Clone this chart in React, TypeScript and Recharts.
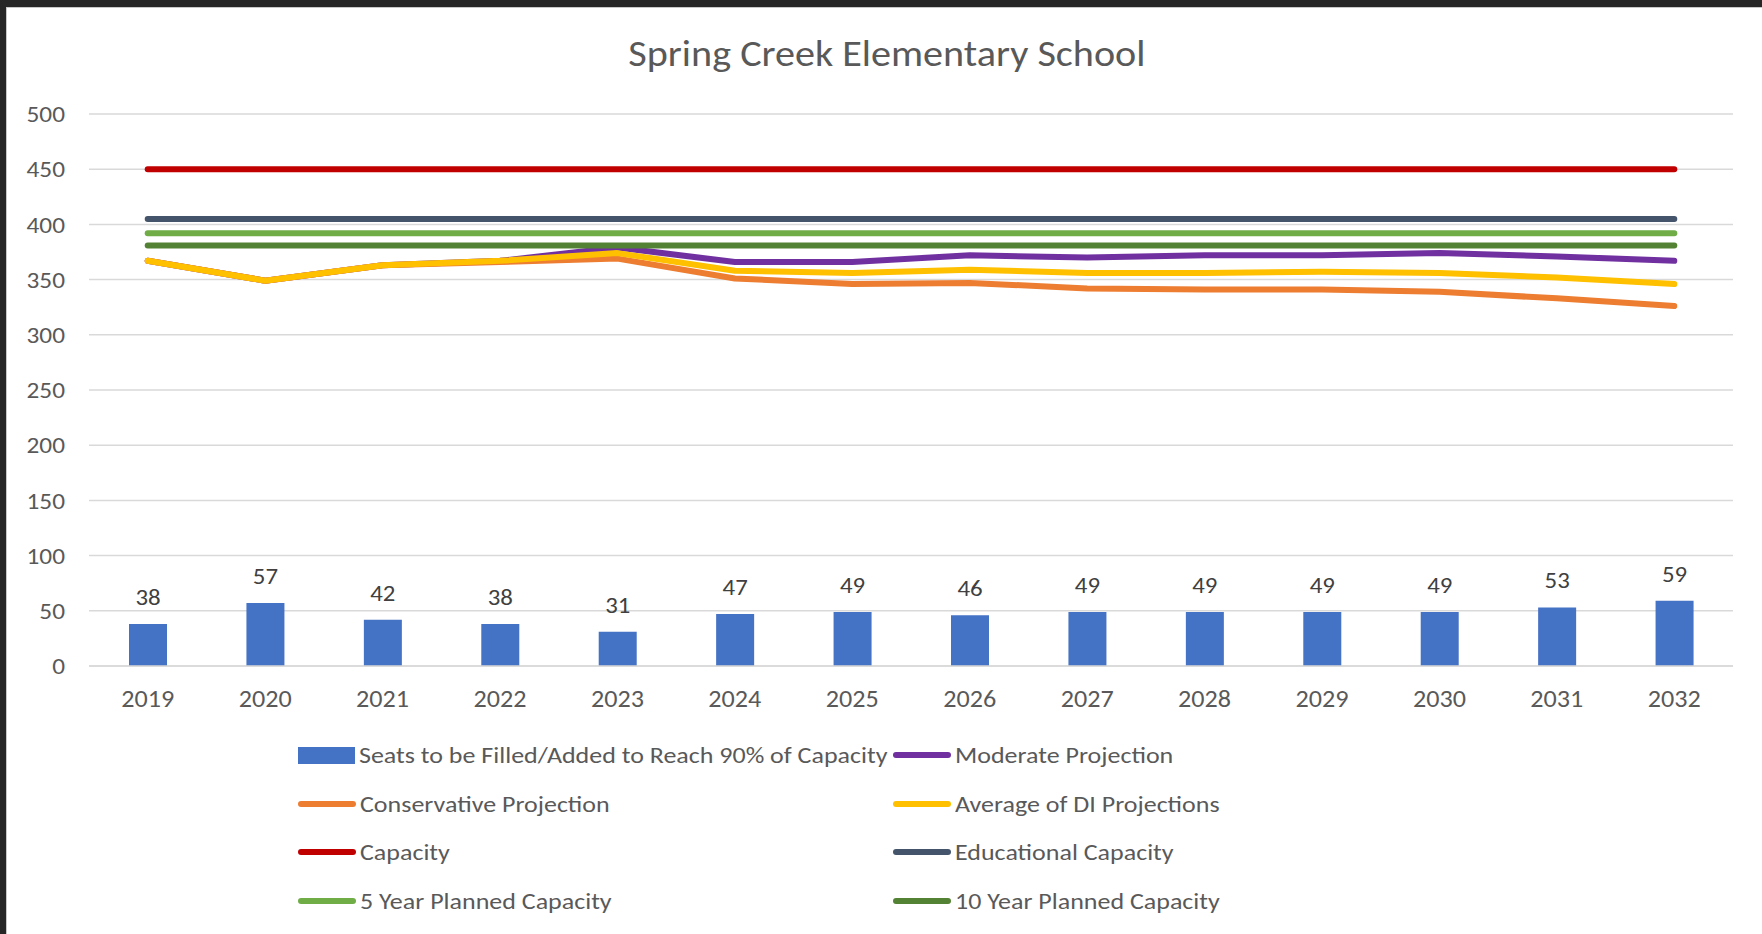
import { ComposedChart, Bar, Line, XAxis, YAxis, CartesianGrid, LabelList } from "recharts";

const years = ["2019", "2020", "2021", "2022", "2023", "2024", "2025", "2026", "2027", "2028", "2029", "2030", "2031", "2032"];
const seats = [38, 57, 42, 38, 31, 47, 49, 46, 49, 49, 49, 49, 53, 59];
const moderate = [367, 349, 363, 367, 379, 366, 366, 372, 370, 372, 372, 374, 371, 367];
const conservative = [367, 349, 363, 366, 369, 351, 346, 347, 342, 341, 341, 339, 333, 326];
const average = [367, 349, 363, 367, 374, 358, 356, 359, 356, 356, 357, 356, 352, 346];
const capacity = [450, 450, 450, 450, 450, 450, 450, 450, 450, 450, 450, 450, 450, 450];
const educational = [405, 405, 405, 405, 405, 405, 405, 405, 405, 405, 405, 405, 405, 405];
const fiveYear = [392, 392, 392, 392, 392, 392, 392, 392, 392, 392, 392, 392, 392, 392];
const tenYear = [381, 381, 381, 381, 381, 381, 381, 381, 381, 381, 381, 381, 381, 381];
const yTicks = [0, 50, 100, 150, 200, 250, 300, 350, 400, 450, 500];

const data = years.map((year, i) => ({
  year,
  seats: seats[i],
  moderate: moderate[i],
  conservative: conservative[i],
  average: average[i],
  capacity: capacity[i],
  educational: educational[i],
  fiveYear: fiveYear[i],
  tenYear: tenYear[i],
}));

const lines = [
  { key: "moderate", name: "Moderate Projection", color: "#7030A0" },
  { key: "conservative", name: "Conservative Projection", color: "#ED7D31" },
  { key: "average", name: "Average of DI Projections", color: "#FFC000" },
  { key: "capacity", name: "Capacity", color: "#C00000" },
  { key: "educational", name: "Educational Capacity", color: "#44546A" },
  { key: "fiveYear", name: "5 Year Planned Capacity", color: "#70AD47" },
  { key: "tenYear", name: "10 Year Planned Capacity", color: "#548235" },
];

const legendItems = [
  { name: "Seats to be Filled/Added to Reach 90% of Capacity", color: "#4472C4", bar: true },
  ...lines.map((l) => ({ ...l, bar: false })),
];

const font = "Carlito, Calibri, Lato, sans-serif";
const grey = "#595959";

// tick text, stretched horizontally around its anchor (source text is wider than Lato)
function StretchTick(props: any) {
  const { x, y, payload, textAnchor, shift, fontSize, stretch } = props;
  return (
    <g transform={`translate(${x},${y}) scale(${stretch},1)`}>
      <text x={0} y={0} dy={shift} textAnchor={textAnchor} fill={grey} fontSize={fontSize} fontFamily={font}>
        {payload.value}
      </text>
    </g>
  );
}

function BarValue(props: any) {
  const { x, y, width, value } = props;
  const cx = x + width / 2;
  return (
    <g transform={`translate(${cx},${y - 19}) scale(1.08,1)`}>
      <text x={0} y={0} textAnchor="middle" fill="#404040" fontSize={23} fontFamily={font}>
        {value}
      </text>
    </g>
  );
}

export default function App() {
  return (
    <div style={{ position: "absolute", left: 0, top: 0, width: 1762, height: 934, background: "#262626", fontFamily: font }}>
      <div style={{ position: "absolute", left: 6, top: 7, right: 0, bottom: 0, background: "#fff", borderTop: "1px solid #c8c8c8", borderLeft: "1px solid #c8c8c8" }} />
      <div style={{ position: "absolute", left: 0, top: 32, width: 1774, textAlign: "center", fontSize: 36, color: grey }}>
        <span style={{ display: "inline-block", transform: "scaleX(1.115)" }}>Spring Creek Elementary School</span>
      </div>
      <div style={{ position: "absolute", left: 0, top: 0 }}>
        <ComposedChart width={1762} height={934} data={data} margin={{ top: 114, right: 29, bottom: 208, left: 0 }}>
          <CartesianGrid vertical={false} stroke="#d9d9d9" strokeWidth={1.5} />
          <XAxis
            dataKey="year"
            axisLine={{ stroke: "#d9d9d9", strokeWidth: 1.5 }}
            tickLine={false}
            tickSize={0}
            tickMargin={24}
            height={60}
            tick={<StretchTick fontSize={24} stretch={1.09} shift="0.71em" />}
          />
          <YAxis
            domain={[0, 500]}
            ticks={yTicks}
            width={89}
            axisLine={false}
            tickLine={false}
            tickSize={0}
            tickMargin={24}
            tick={<StretchTick fontSize={23} stretch={1.1} shift="0.355em" />}
          />
          <Bar dataKey="seats" fill="#4472C4" barSize={38} isAnimationActive={false}>
            <LabelList dataKey="seats" content={<BarValue />} />
          </Bar>
          {lines.map((l) => (
            <Line
              key={l.key}
              dataKey={l.key}
              name={l.name}
              type="linear"
              stroke={l.color}
              strokeWidth={6}
              strokeLinecap="round"
              strokeLinejoin="round"
              dot={false}
              activeDot={false}
              isAnimationActive={false}
            />
          ))}
        </ComposedChart>
      </div>
      {legendItems.map((item, i) => {
        const col = i % 2;
        const row = Math.floor(i / 2);
        const left = col === 0 ? 298 : 893;
        const cy = 755 + row * 48.7;
        return (
          <div key={item.name} style={{ position: "absolute", left, top: cy - 16, height: 32, display: "flex", alignItems: "center", whiteSpace: "nowrap" }}>
            {item.bar ? (
              <div style={{ width: 57, height: 17, background: item.color }} />
            ) : (
              <div style={{ width: 58, height: 6, borderRadius: 3, background: item.color }} />
            )}
            <span style={{ marginLeft: 4, fontSize: 23, color: grey, display: "inline-block", transform: "scaleX(1.13)", transformOrigin: "left center" }}>
              {item.name}
            </span>
          </div>
        );
      })}
    </div>
  );
}
